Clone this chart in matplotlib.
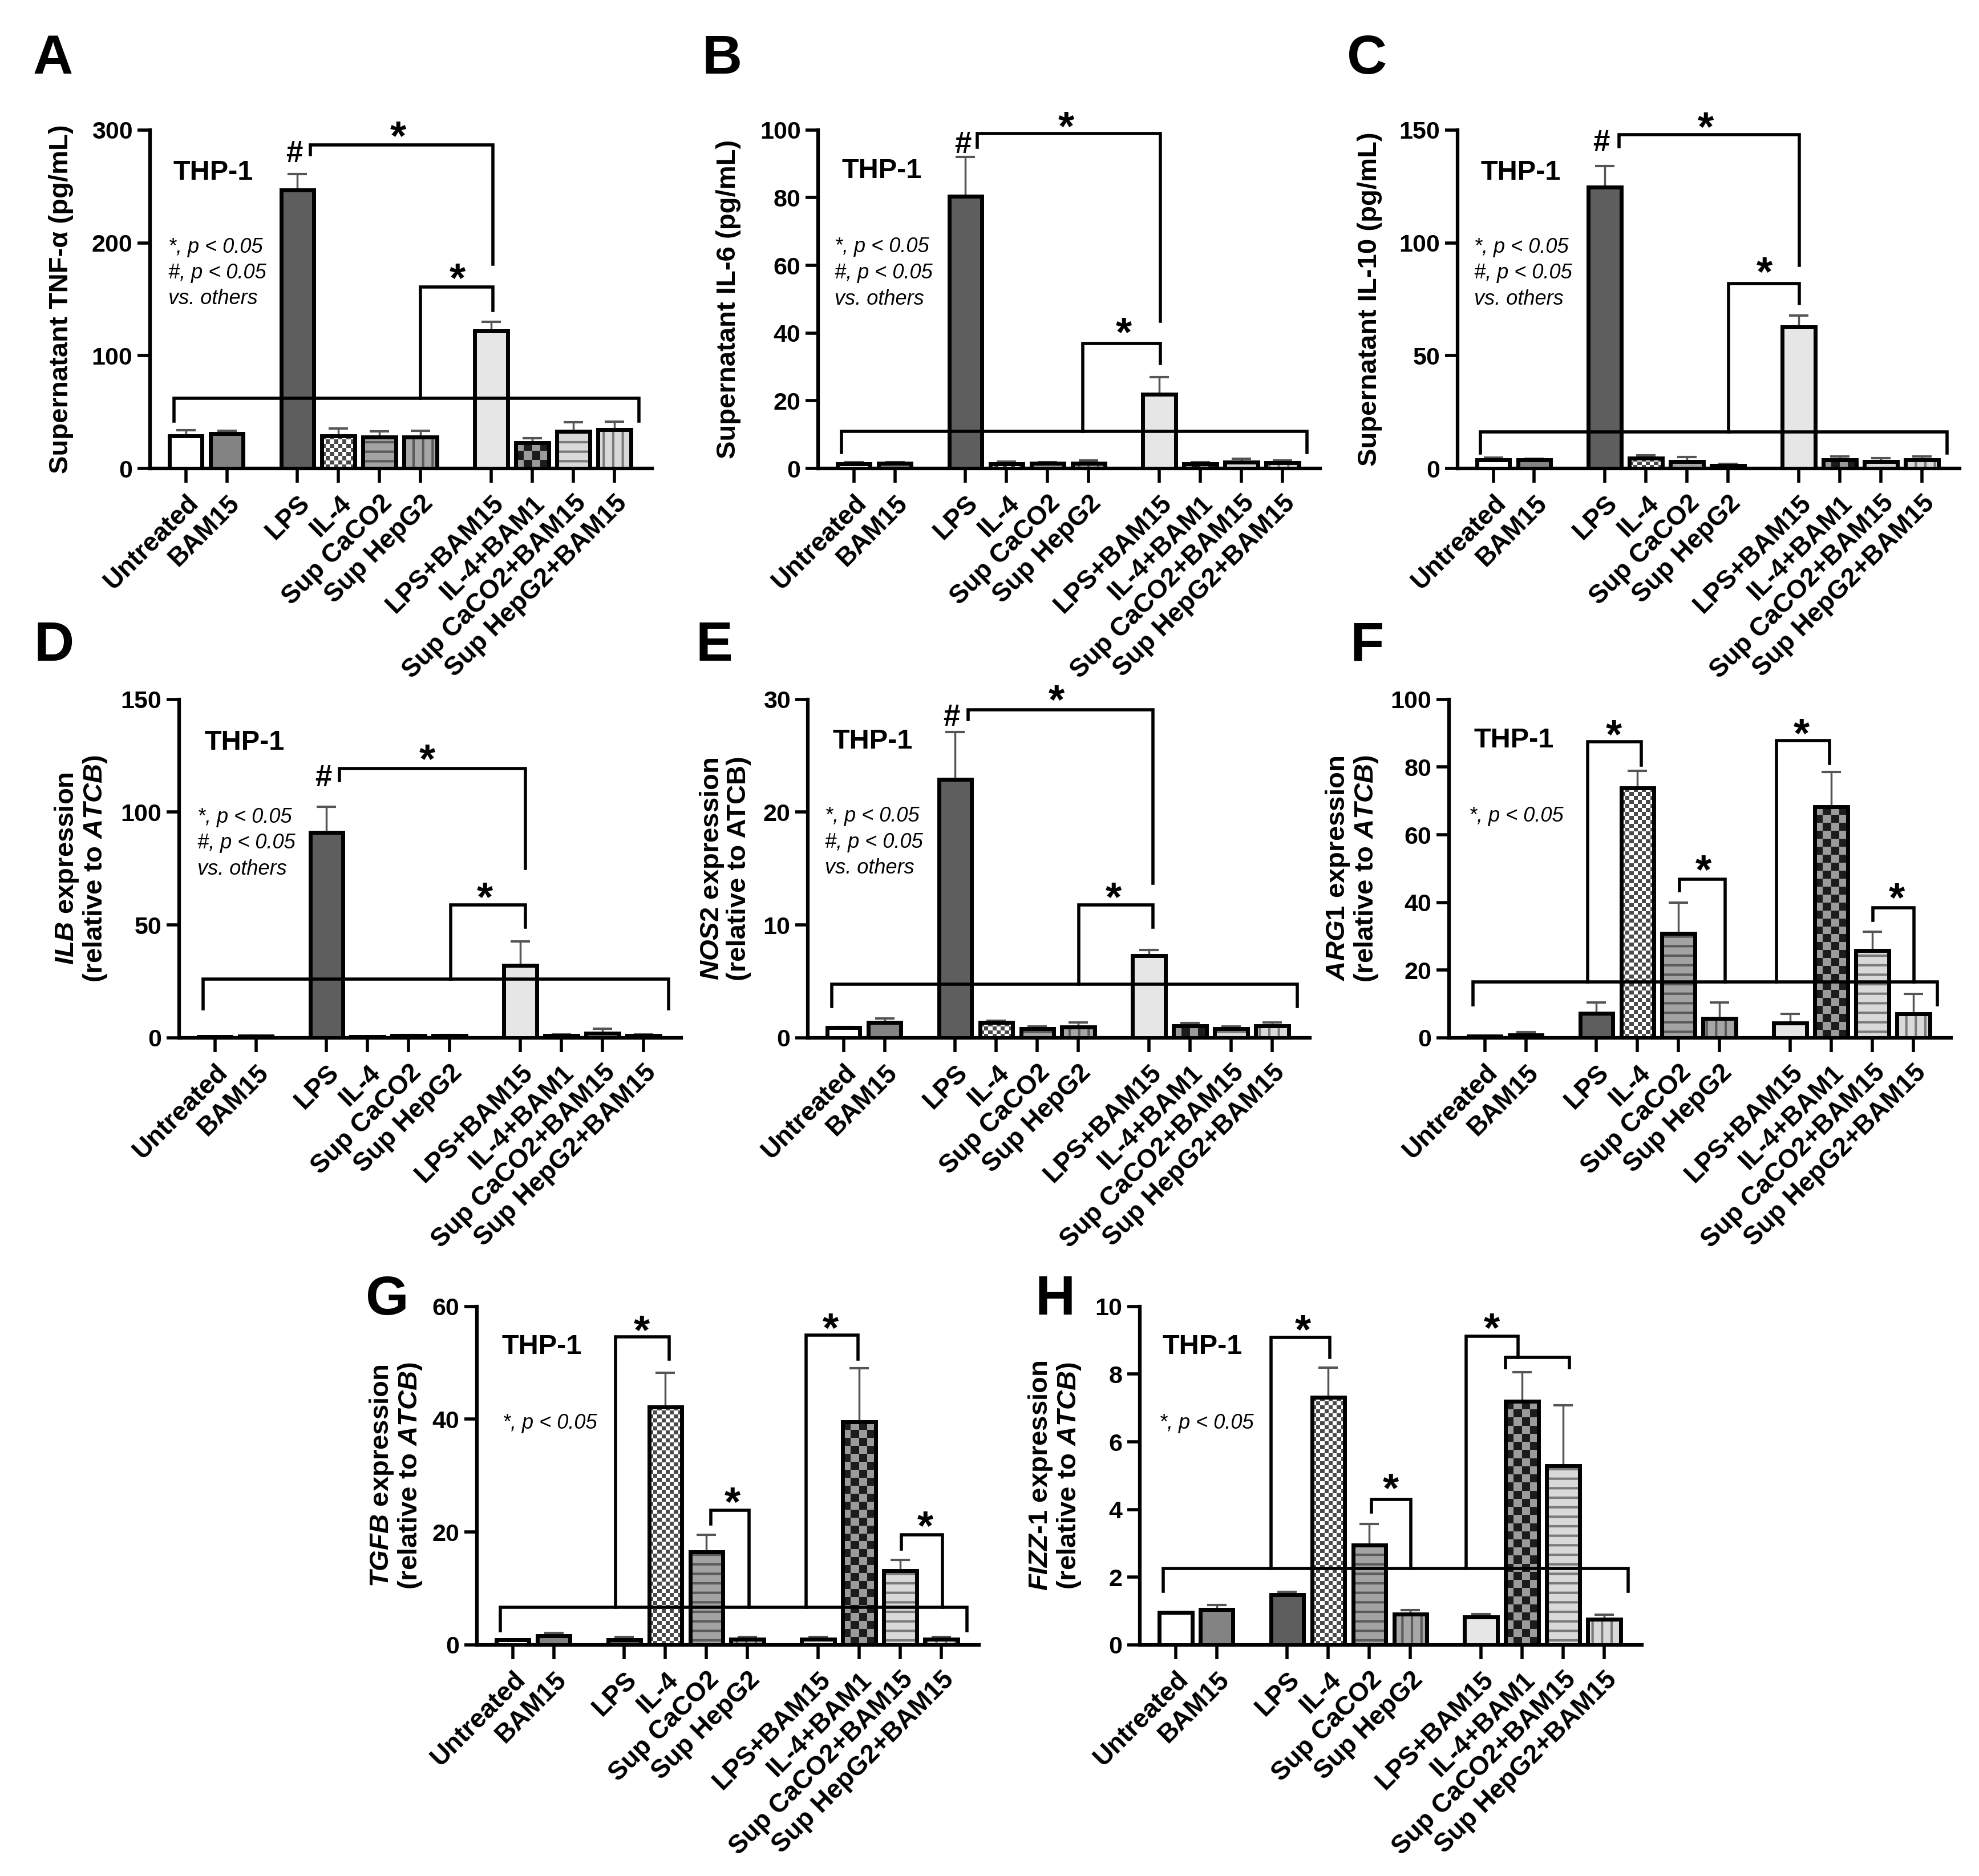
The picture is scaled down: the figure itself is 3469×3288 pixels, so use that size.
import numpy as np
import matplotlib
matplotlib.use("Agg")
import matplotlib.pyplot as plt
from matplotlib.colors import ListedColormap

# =========================================================
# FONTS / STYLE
# =========================================================

plt.rcParams['font.family'] = ['Liberation Sans', 'DejaVu Sans']
plt.rcParams['font.weight'] = 'bold'
plt.rcParams['mathtext.fontset'] = 'custom'
plt.rcParams['mathtext.it'] = 'Liberation Sans:italic:bold'
plt.rcParams['mathtext.rm'] = 'Liberation Sans:bold'
plt.rcParams['mathtext.bf'] = 'Liberation Sans:bold'
plt.rcParams['hatch.linewidth'] = 3.0

# =========================================================
# DATA (mean, upper error)
# =========================================================

categories = [
    "Untreated", "BAM15",
    "LPS", "IL-4", "Sup CaCO2", "Sup HepG2",
    "LPS+BAM15", "IL-4+BAM1", "Sup CaCO2+BAM15", "Sup HepG2+BAM15",
]
group_sizes = [2, 4, 4]

tnf_mean = [29, 31, 247, 29, 28, 28, 122, 23, 33, 34.5]
tnf_err = [5, 2.5, 14, 6.5, 5, 5.5, 8, 4, 8, 7]

il6_mean = [1.3, 1.5, 80.5, 1.3, 1.5, 1.5, 22, 1.4, 1.8, 1.7]
il6_err = [0.5, 0.3, 11.5, 0.8, 0.4, 0.8, 5, 0.4, 1.0, 0.6]

il10_mean = [3.7, 3.7, 124.6, 4.5, 3.0, 1.2, 62.7, 3.7, 3.0, 3.7]
il10_err = [1.2, 0.5, 9.4, 1.3, 2.0, 0.8, 5.0, 1.5, 1.5, 1.5]

ilb_mean = [0.5, 0.8, 91, 0.5, 1.0, 1.0, 32, 1.0, 2.0, 1.0]
ilb_err = [0.1, 0.3, 11.5, 0.1, 0.3, 0.3, 10.7, 0.4, 1.9, 0.4]

nos2_mean = [0.9, 1.35, 22.9, 1.35, 0.8, 0.95, 7.26, 1.05, 0.8, 1.05]
nos2_err = [0.05, 0.35, 4.2, 0.15, 0.2, 0.4, 0.55, 0.25, 0.2, 0.3]

arg1_mean = [0.5, 0.9, 7.2, 73.8, 30.9, 5.7, 4.4, 68.2, 25.7, 7.0]
arg1_err = [0.1, 0.8, 3.2, 5.1, 9.1, 4.7, 2.6, 10.3, 5.6, 6.0]

tgfb_mean = [0.9, 1.6, 0.9, 42.2, 16.5, 1.05, 1.05, 39.5, 13.1, 1.05]
tgfb_err = [0.05, 0.5, 0.5, 6.0, 3.0, 0.35, 0.35, 9.6, 2.0, 0.35]

fizz_mean = [0.96, 1.05, 1.49, 7.31, 2.95, 0.91, 0.82, 7.19, 5.29, 0.76]
fizz_err = [0.0, 0.13, 0.07, 0.89, 0.62, 0.11, 0.09, 0.87, 1.79, 0.14]

# =========================================================
# BAR STYLES (face, hatch, hatch colour, checker)
# =========================================================

face_colors = ['#ffffff', '#838383', '#5e5e5e', '#ffffff', '#a3a3a3',
               '#a6a6a6', '#e6e6e6', '#9b9b9b', '#d9d9d9', '#d9d9d9']
hatches = ['', '', '', '', '-', '|', '', '', '-', '|']
hatch_colors = ['#000000', '#000000', '#000000', '#000000', '#5a5a5a',
                '#5a5a5a', '#000000', '#000000', '#7a7a7a', '#7a7a7a']
checkers = {3: ('#ffffff', '#4a4a4a', 7), 7: ('#9b9b9b', '#1c1c1c', 14)}

# x positions from group structure
GAP = 0.72
positions = []
x = 0.0
for gi, n in enumerate(group_sizes):
    for k in range(n):
        positions.append(x)
        x += 1
    x += GAP
positions = np.array(positions)

BAR_W = 0.8
XLIM = (-0.87, positions[-1] + 0.92)

# =========================================================
# PANEL SPECS
# =========================================================

W, H = 0.2537, 0.1804
stats3 = ["*, p < 0.05", "#, p < 0.05", "vs. others"]

panels = [
    dict(letter='A', lpos=(0.0268, 0.9684), rect=(0.0758, 0.7503, W, H),
         mean=tnf_mean, err=tnf_err, ymax=300, yticks=[0, 100, 200, 300],
         ylabel='Supernatant TNF-α (pg/mL)', labx=-0.152,
         brackets=[[(-0.28, 42), (-0.28, 62), (11.04, 62), (11.04, 42)],
                   [(5.72, 62), (5.72, 161), (7.48, 161), (7.48, 140)],
                   [(3.04, 278), (3.04, 287), (7.48, 287), (7.48, 181)]],
         stars=[(5.17, 303), (6.62, 177)], hashes=[(2.65, 281)],
         thp=(-0.3, 265), stats=stats3, stx=-0.42, sty=[198, 175, 152]),
    dict(letter='B', lpos=(0.3648, 0.9684), rect=(0.4134, 0.7503, W, H),
         mean=il6_mean, err=il6_err, ymax=100, yticks=[0, 20, 40, 60, 80, 100],
         ylabel='Supernatant IL-6 (pg/mL)', labx=-0.153,
         brackets=[[(-0.3, 4.8), (-0.3, 10.9), (11.04, 10.9), (11.04, 4.8)],
                   [(5.58, 10.9), (5.58, 37), (7.47, 37), (7.47, 31)],
                   [(3.0, 95), (3.0, 99), (7.47, 99), (7.47, 43.5)]],
         stars=[(5.17, 104), (6.58, 43)], hashes=[(2.65, 96.5)],
         thp=(-0.3, 88.8), stats=stats3, stx=-0.47, sty=[66.1, 58.4, 50.6]),
    dict(letter='C', lpos=(0.6907, 0.9684), rect=(0.7365, 0.7503, W, H),
         mean=il10_mean, err=il10_err, ymax=150, yticks=[0, 50, 100, 150],
         ylabel='Supernatant IL-10 (pg/mL)', labx=-0.15,
         brackets=[[(-0.31, 6.8), (-0.31, 16.3), (11.05, 16.3), (11.05, 6.8)],
                   [(5.73, 16.3), (5.73, 82), (7.46, 82), (7.46, 73)],
                   [(3.07, 142.6), (3.07, 148), (7.46, 148), (7.46, 90)]],
         stars=[(5.18, 155.7), (6.6, 91.3)], hashes=[(2.63, 145.5)],
         thp=(-0.3, 132.4), stats=stats3, stx=-0.46, sty=[99, 87.5, 75.9]),
    dict(letter='D', lpos=(0.0274, 0.6555), rect=(0.0905, 0.4468, W, H),
         mean=ilb_mean, err=ilb_err, ymax=150, yticks=[0, 50, 100, 150],
         ylabel='$ILB$ expression\n(relative to $ATCB$)', labx=-0.14,
         brackets=[[(-0.28, 13), (-0.28, 26), (11.06, 26), (11.06, 13)],
                   [(5.75, 26), (5.75, 59), (7.56, 59), (7.56, 49)],
                   [(3.04, 114), (3.04, 119.4), (7.56, 119.4), (7.56, 75)]],
         stars=[(5.18, 127.7), (6.58, 66.5)], hashes=[(2.64, 116.2)],
         thp=(-0.25, 132.1), stats=stats3, stx=-0.43, sty=[98.6, 87.2, 75.7]),
    dict(letter='E', lpos=(0.361, 0.6555), rect=(0.4082, 0.4468, W, H),
         mean=nos2_mean, err=nos2_err, ymax=30, yticks=[0, 10, 20, 30],
         ylabel='$NOS2$ expression\n(relative to ATCB)', labx=-0.112,
         brackets=[[(-0.29, 2.8), (-0.29, 4.76), (11.05, 4.76), (11.05, 2.8)],
                   [(5.73, 4.76), (5.73, 11.8), (7.53, 11.8), (7.53, 9.8)],
                   [(3.03, 28.2), (3.03, 29.1), (7.53, 29.1), (7.53, 13.7)]],
         stars=[(5.18, 30.8), (6.58, 13.3)], hashes=[(2.63, 28.6)],
         thp=(-0.26, 26.5), stats=stats3, stx=-0.45, sty=[19.8, 17.5, 15.2]),
    dict(letter='F', lpos=(0.6907, 0.6555), rect=(0.7322, 0.4468, W, H),
         mean=arg1_mean, err=arg1_err, ymax=100, yticks=[0, 20, 40, 60, 80, 100],
         ylabel='$ARG1$ expression\n(relative to $ATCB$)', labx=-0.138,
         brackets=[[(-0.29, 9.7), (-0.29, 16.5), (11.02, 16.5), (11.02, 9.7)],
                   [(2.51, 16.5), (2.51, 87.5), (3.81, 87.5), (3.81, 80.5)],
                   [(4.75, 43.4), (4.75, 46.8), (5.86, 46.8), (5.86, 16.5)],
                   [(7.11, 16.5), (7.11, 87.9), (8.4, 87.9), (8.4, 81)],
                   [(9.45, 34.7), (9.45, 38.5), (10.45, 38.5), (10.45, 16.5)]],
         stars=[(3.14, 92.5), (5.33, 52.5), (7.72, 92.8), (10.04, 44.2)],
         hashes=[], thp=(-0.27, 88.7), stats=["*, p < 0.05"], stx=-0.38,
         sty=[66]),
    dict(letter='G', lpos=(0.1958, 0.3069), rect=(0.2410, 0.1232, W, H),
         mean=tgfb_mean, err=tgfb_err, ymax=60, yticks=[0, 20, 40, 60],
         ylabel='$TGFB$ expression\n(relative to $ATCB$)', labx=-0.106,
         brackets=[[(-0.3, 2.5), (-0.3, 6.7), (11.06, 6.7), (11.06, 2.5)],
                   [(2.5, 6.7), (2.5, 54.6), (3.81, 54.6), (3.81, 50.7)],
                   [(4.83, 21.4), (4.83, 23.9), (5.76, 23.9), (5.76, 6.7)],
                   [(7.15, 6.7), (7.15, 54.9), (8.41, 54.9), (8.41, 50.7)],
                   [(9.47, 17.0), (9.47, 19.5), (10.47, 19.5), (10.47, 6.7)]],
         stars=[(3.15, 57.5), (5.35, 27), (7.75, 57.9), (10.05, 22.8)],
         hashes=[], thp=(-0.26, 53.3), stats=["*, p < 0.05"], stx=-0.24,
         sty=[39.6]),
    dict(letter='H', lpos=(0.5332, 0.3069), rect=(0.5760, 0.1232, W, H),
         mean=fizz_mean, err=fizz_err, ymax=10, yticks=[0, 2, 4, 6, 8, 10],
         ylabel='$FIZZ$-$1$ expression\n(relative to $ATCB$)', labx=-0.114,
         brackets=[[(-0.3, 1.58), (-0.3, 2.25), (11.02, 2.25), (11.02, 1.58)],
                   [(2.33, 2.25), (2.33, 9.09), (3.76, 9.09), (3.76, 8.5)],
                   [(4.77, 3.93), (4.77, 4.3), (5.73, 4.3), (5.73, 2.25)],
                   [(7.08, 2.25), (7.08, 9.12), (8.34, 9.12), (8.34, 8.5)],
                   [(8.03, 8.19), (8.03, 8.5), (9.59, 8.5), (9.59, 8.19)]],
         stars=[(3.1, 9.59), (5.24, 4.91), (7.7, 9.65)],
         hashes=[], thp=(-0.32, 8.89), stats=["*, p < 0.05"], stx=-0.4,
         sty=[6.61]),
]

# =========================================================
# DRAW
# =========================================================

fig = plt.figure(figsize=(34.69, 32.88), dpi=100)


def centered_text(ax, s, x, y, size, ha='center', **kw):
    # place glyph centre (approx.) at data y
    ax.annotate(s, (x, y), xytext=(0, -0.36 * size), textcoords='offset points',
                ha=ha, va='baseline', fontsize=size, annotation_clip=False, **kw)


for p in panels:
    ax = fig.add_axes(p['rect'])
    mean = np.array(p['mean'])
    err = np.array(p['err'])

    ax.set_xlim(*XLIM)
    ax.set_ylim(0, p['ymax'])

    # error bars (upper only)
    ax.errorbar(positions, mean, yerr=[np.zeros_like(err), err], fmt='none',
                ecolor='#555555', elinewidth=2.5, capsize=12, capthick=3,
                zorder=2)

    # filled bars with hatch
    faces = ax.bar(positions, mean, width=BAR_W, color=face_colors,
                   linewidth=0, zorder=3)
    for bar, h, hc in zip(faces, hatches, hatch_colors):
        bar.set_edgecolor(hc)
        bar.set_linewidth(0)
        if h:
            bar.set_hatch(h)

    # checkerboard bars
    for i, (c1, c2, cell) in checkers.items():
        xc, hgt = positions[i], mean[i]
        p0 = ax.transData.transform((xc - BAR_W / 2, 0))
        p1 = ax.transData.transform((xc + BAR_W / 2, hgt))
        nx = max(1, int(round((p1[0] - p0[0]) / cell)))
        ny = max(1, int(round((p1[1] - p0[1]) / cell)))
        grid = np.indices((ny, nx)).sum(axis=0) % 2
        ax.imshow(grid, extent=(xc - BAR_W / 2, xc + BAR_W / 2, 0, hgt),
                  origin='lower', cmap=ListedColormap([c1, c2]), vmin=0, vmax=1,
                  interpolation='nearest', aspect='auto', zorder=3.1)

    # outlines
    ax.bar(positions, mean, width=BAR_W, fill=False, edgecolor='black',
           linewidth=5, zorder=4)

    ax.set_xlim(*XLIM)
    ax.set_ylim(0, p['ymax'])

    # brackets
    for br in p['brackets']:
        bx, by = zip(*br)
        ax.plot(bx, by, color='black', lw=4, clip_on=False, zorder=6,
                solid_capstyle='projecting', solid_joinstyle='miter')
    for sx, sy in p['stars']:
        ax.annotate('*', (sx, sy), xytext=(0, -0.56 * 52), textcoords='offset points',
                    ha='center', va='baseline', fontsize=52, fontweight='bold',
                    annotation_clip=False, zorder=7)
    for hx, hy in p['hashes']:
        centered_text(ax, '#', hx, hy, 38, fontweight='bold')

    centered_text(ax, 'THP-1', p['thp'][0], p['thp'][1], 35, ha='left',
                  fontweight='bold')
    for line, yy in zip(p['stats'], p['sty']):
        centered_text(ax, line, p['stx'], yy, 26, ha='left',
                      fontweight='normal', fontstyle='italic')

    # axes styling
    for s in ['top', 'right']:
        ax.spines[s].set_visible(False)
    for s in ['left', 'bottom']:
        ax.spines[s].set_linewidth(4.5)
    ax.set_yticks(p['yticks'])
    ax.set_xticks(positions)
    ax.set_xticklabels(categories, rotation=45, ha='right', va='top',
                       rotation_mode='anchor', fontsize=33, fontweight='bold')
    ax.tick_params(axis='x', length=18, width=4, pad=10)
    ax.tick_params(axis='y', length=16, width=4, pad=6, labelsize=31)
    for lab in ax.get_yticklabels():
        lab.set_fontweight('bold')

    ax.set_ylabel(p['ylabel'], fontsize=34, fontweight='bold', linespacing=1.05)
    ax.yaxis.set_label_coords(p['labx'], 0.5)

    fig.text(p['lpos'][0], p['lpos'][1], p['letter'], fontsize=70,
             fontweight='bold', ha='center', va='center')

fig.savefig('out.png', dpi=100)
plt.close(fig)
